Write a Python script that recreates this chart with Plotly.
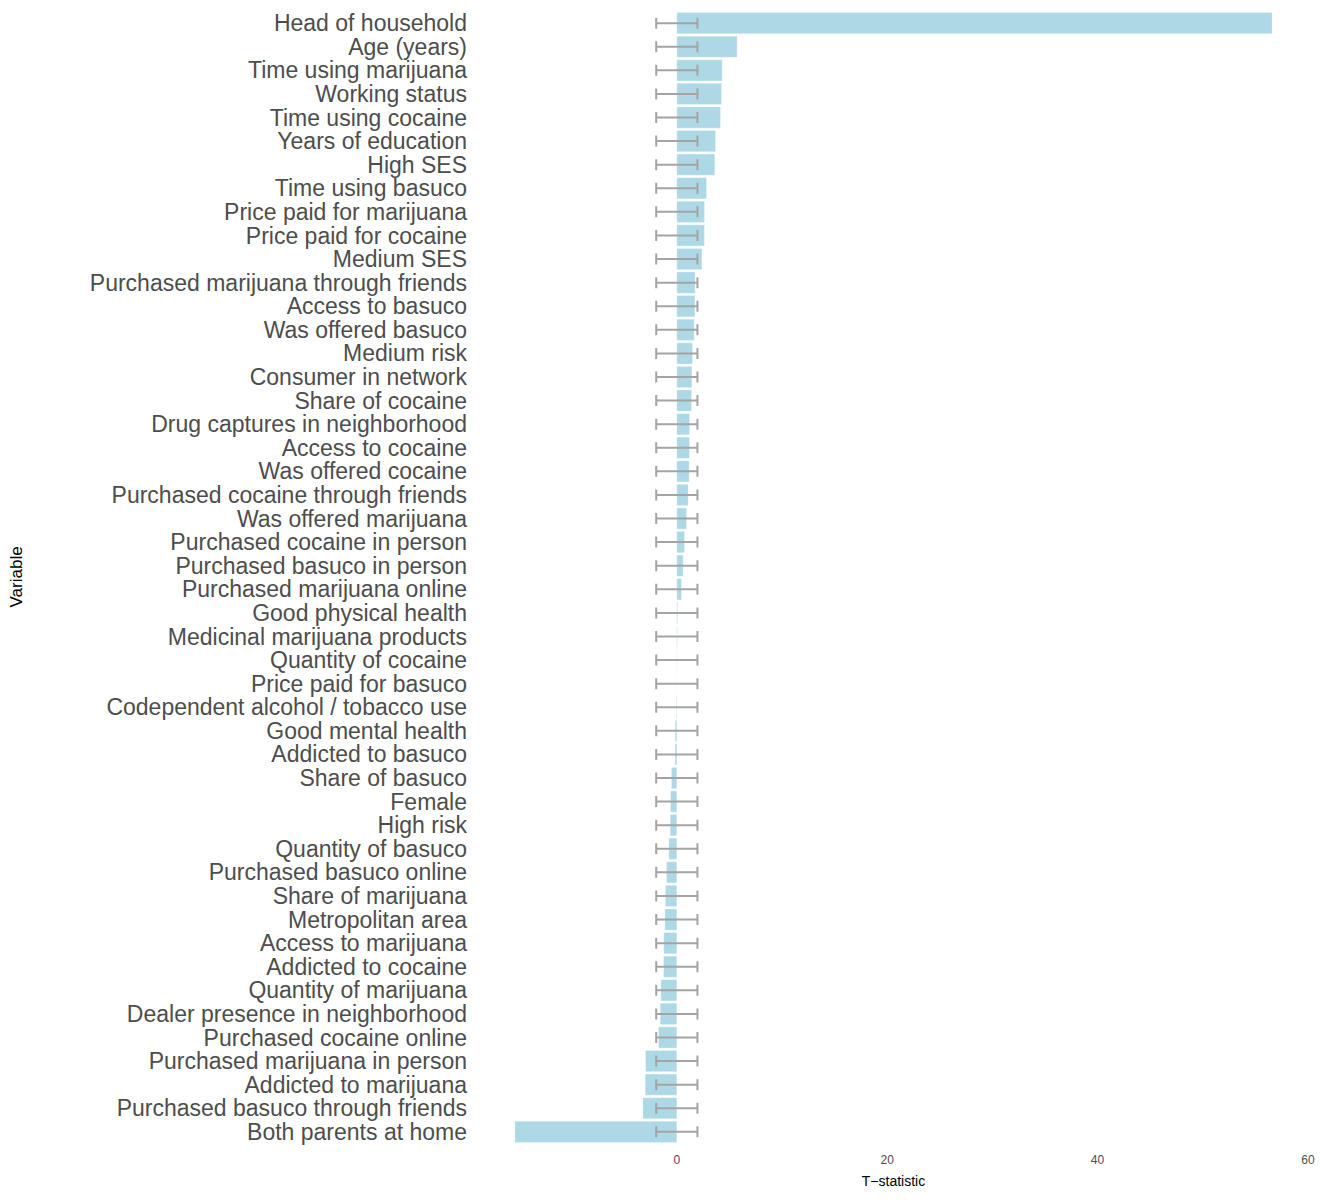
import plotly.graph_objects as go

# variables, top to bottom, and their t-statistics
variables = [
    "Head of household", "Age (years)", "Time using marijuana", "Working status",
    "Time using cocaine", "Years of education", "High SES", "Time using basuco",
    "Price paid for marijuana", "Price paid for cocaine", "Medium SES",
    "Purchased marijuana through friends", "Access to basuco", "Was offered basuco",
    "Medium risk", "Consumer in network", "Share of cocaine",
    "Drug captures in neighborhood", "Access to cocaine", "Was offered cocaine",
    "Purchased cocaine through friends", "Was offered marijuana",
    "Purchased cocaine in person", "Purchased basuco in person",
    "Purchased marijuana online", "Good physical health",
    "Medicinal marijuana products", "Quantity of cocaine", "Price paid for basuco",
    "Codependent alcohol / tobacco use", "Good mental health", "Addicted to basuco",
    "Share of basuco", "Female", "High risk", "Quantity of basuco",
    "Purchased basuco online", "Share of marijuana", "Metropolitan area",
    "Access to marijuana", "Addicted to cocaine", "Quantity of marijuana",
    "Dealer presence in neighborhood", "Purchased cocaine online",
    "Purchased marijuana in person", "Addicted to marijuana",
    "Purchased basuco through friends", "Both parents at home",
]
t_stat = [
    56.6, 5.73, 4.31, 4.25, 4.15, 3.68, 3.61, 2.82, 2.63, 2.62, 2.38,
    1.74, 1.72, 1.65, 1.49, 1.43, 1.40, 1.21, 1.20, 1.17, 1.08, 0.92,
    0.73, 0.60, 0.44, 0.07, 0.05, 0.03, 0.01, -0.05, -0.15, -0.17,
    -0.51, -0.60, -0.63, -0.76, -0.98, -1.08, -1.14, -1.24, -1.26, -1.52,
    -1.58, -1.74, -2.98, -3.01, -3.23, -15.4,
]
# critical value band (+/- 1.96) around zero
crit_center = [0] * len(variables)
crit_half = [1.96] * len(variables)

fig = go.Figure()

fig.add_trace(go.Bar(
    x=t_stat, y=variables, orientation="h",
    width=0.9,
    marker=dict(color="#ADD8E6", line=dict(color="rgba(255,255,255,0.6)", width=0.5)),
    showlegend=False, hoverinfo="x+y",
))

fig.add_trace(go.Scatter(
    x=crit_center, y=variables, mode="markers",
    marker=dict(size=0.1, color="rgba(0,0,0,0)"),
    error_x=dict(type="data", array=crit_half, symmetric=True,
                 color="#A4A4A4", thickness=2, width=5.5),
    showlegend=False, hoverinfo="skip",
))

fig.update_layout(
    width=1320, height=1200,
    margin=dict(l=477, r=10, t=9, b=54),
    plot_bgcolor="white", paper_bgcolor="white",
    font=dict(family="Liberation Sans, Arial, sans-serif", color="#4d4d4d"),
    bargap=0.1,
    annotations=[dict(
        text="Variable", textangle=-90, xref="paper", yref="paper",
        x=0, y=0.5, xshift=-461, xanchor="center", yanchor="middle",
        showarrow=False, font=dict(size=17, color="black"),
    )],
)

fig.update_xaxes(
    range=[-19, 60.2], tickvals=[0, 20, 40, 60],
    showgrid=False, zeroline=False, showline=False, automargin=False,
    tickfont=dict(size=12, color="#4d4d4d"),
    ticklabelstandoff=5,
    title=dict(text="T−statistic", font=dict(size=14, color="black"), standoff=10),
)
fig.update_yaxes(
    type="category", categoryorder="array", categoryarray=variables,
    tickmode="linear", tick0=0, dtick=1,
    range=[len(variables) - 0.4, -0.6],
    showgrid=False, zeroline=False, showline=False, automargin=False,
    tickfont=dict(size=23, color="#4d4d4d"),
    ticklabelstandoff=9,
)

# drop the default body margin so the figure fills the window
fig.write_html("out.html", config={"displayModeBar": False},
               post_script="document.body.style.margin='0';")
